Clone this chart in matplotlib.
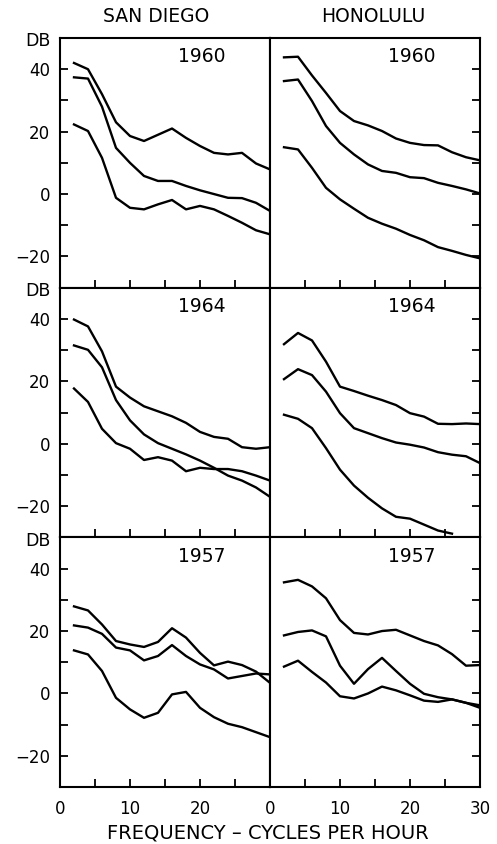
import matplotlib.pyplot as plt
from matplotlib import transforms

freq = [2, 4, 6, 8, 10, 12, 14, 16, 18, 20, 22, 24, 26, 28, 30]

# San Diego
sd_1960_hi = [42, 40, 32, 23, 18.6, 17, 19, 21, 18, 15.4, 13.2, 12.7, 13.2, 9.8, 7.9]
sd_1960_mid = [37.4, 37, 28, 14.8, 10, 5.8, 4.2, 4.2, 2.6, 1.2, 0, -1.2, -1.3, -2.8, -5.4]
sd_1960_lo = [22.3, 20.2, 11.6, -1.2, -4.4, -4.9, -3.3, -1.9, -4.9, -3.8, -4.9, -7, -9.2, -11.6, -12.9]

sd_1964_hi = [39.8, 37.6, 29.6, 18.3, 14.8, 12, 10.4, 8.8, 6.7, 3.8, 2.2, 1.6, -1.1, -1.6, -1.1]
sd_1964_mid = [31.5, 30.1, 24.5, 14, 7.5, 3, 0.2, -1.6, -3.4, -5.4, -7.7, -10.2, -11.8, -14, -17]
sd_1964_lo = [17.7, 13.4, 4.8, 0.2, -1.6, -5.2, -4.3, -5.4, -8.8, -7.7, -8.1, -8.1, -8.8, -10.2, -11.8]

sd_1957_hi = [27.9, 26.6, 22.1, 16.8, 15.7, 14.9, 16.5, 20.9, 17.9, 13, 9, 10.2, 9.1, 7, 3.4]
sd_1957_mid = [21.8, 21.1, 19.1, 14.7, 13.8, 10.6, 12, 15.5, 12, 9.3, 7.7, 4.8, 5.6, 6.4, 6.1]
sd_1957_lo = [13.8, 12.5, 7.2, -1.4, -5.1, -7.8, -6.2, -0.3, 0.5, -4.6, -7.6, -9.7, -10.8, -12.4, -14]

# Honolulu
ho_1960_hi = [43.8, 44, 38, 32.4, 26.6, 23.4, 22, 20.2, 17.8, 16.4, 15.7, 15.6, 13.4, 11.8, 10.8]
ho_1960_mid = [36.2, 36.7, 29.8, 21.8, 16.4, 12.7, 9.5, 7.4, 6.8, 5.4, 5.1, 3.6, 2.6, 1.5, 0.2]
ho_1960_lo = [15, 14.3, 8.4, 2, -1.7, -4.7, -7.6, -9.5, -11.1, -13.1, -14.8, -17, -18.2, -19.5, -20.6]

ho_1964_hi = [31.9, 35.5, 33.1, 26.3, 18.3, 16.9, 15.4, 14, 12.4, 9.8, 8.7, 6.4, 6.3, 6.5, 6.3]
ho_1964_mid = [20.7, 23.9, 22, 16.7, 9.8, 5, 3.4, 1.8, 0.4, -0.3, -1.2, -2.7, -3.5, -4, -6.2]
ho_1964_lo = [9.3, 8, 5, -1.4, -8.3, -13.4, -17.3, -20.7, -23.4, -24, -25.9, -27.8, -28.8]

ho_1957_hi = [35.6, 36.4, 34.3, 30.5, 23.5, 19.4, 18.9, 20, 20.4, 18.6, 16.8, 15.4, 12.6, 8.9, 9.1]
ho_1957_mid = [18.6, 19.7, 20.2, 18.3, 8.9, 3.1, 7.8, 11.4, 7.2, 3.1, -0.1, -1.2, -1.9, -3, -4.6]
ho_1957_lo = [8.6, 10.5, 6.9, 3.5, -0.9, -1.6, 0, 2.2, 1, -0.6, -2.3, -2.7, -1.9, -3, -3.8]

years = ['1960', '1964', '1957']
san_diego = [
    [sd_1960_hi, sd_1960_mid, sd_1960_lo],
    [sd_1964_hi, sd_1964_mid, sd_1964_lo],
    [sd_1957_hi, sd_1957_mid, sd_1957_lo],
]
honolulu = [
    [ho_1960_hi, ho_1960_mid, ho_1960_lo],
    [ho_1964_hi, ho_1964_mid, ho_1964_lo],
    [ho_1957_hi, ho_1957_mid, ho_1957_lo],
]

ytick_vals = [-20, -10, 0, 10, 20, 30, 40]
ytick_labels = ['\u221220', '', '0', '', '20', '', '40']
xtick_vals = [0, 5, 10, 15, 20, 25, 30]
xlabels_left = ['0', '', '10', '', '20', '', '']
xlabels_right = ['0', '', '10', '', '20', '', '30']

W, H = 497, 844
fig = plt.figure(figsize=(W / 100, H / 100), dpi=100)

x0, pw = 60, 210
top, ph = 38, 249.7
lw = 1.7

for row in range(3):
    y_top = top + row * ph
    for col, data in enumerate([san_diego, honolulu]):
        left = x0 + col * pw
        ax = fig.add_axes([left / W, 1 - (y_top + ph) / H, pw / W, ph / H])
        for series in data[row]:
            ax.plot(freq[:len(series)], series, color='black', lw=lw,
                    solid_joinstyle='round')
        ax.set_xlim(0, 30)
        ax.set_ylim(-30, 50)
        for sp in ax.spines.values():
            sp.set_linewidth(1.5)
        ax.set_xticks(xtick_vals)
        if row == 2:
            ax.set_xticklabels(xlabels_left if col == 0 else xlabels_right,
                               fontsize=12)
        else:
            ax.set_xticklabels([])
        ax.tick_params(axis='x', direction='in', length=5.5, width=1.3, pad=9)
        ax.set_yticks(ytick_vals)
        if col == 0:
            ax.set_yticklabels(ytick_labels, fontsize=12)
            ax.tick_params(axis='y', direction='in', length=5.5, width=1.3, pad=7,
                           left=True, right=False)
            trans = transforms.blended_transform_factory(fig.transFigure, ax.transData)
            ax.text(51 / W, 49, 'DB', transform=trans, ha='right', va='center',
                    fontsize=12.5)
        else:
            ax.tick_params(axis='y', direction='in', length=5.5, width=1.3,
                           left=False, right=True, labelleft=False, labelright=False)
        ax.text(20.3, 44, years[row], ha='center', va='center', fontsize=13.5)

fig.text(156 / W, 1 - 17 / H, 'SAN DIEGO', ha='center', va='center', fontsize=13.5)
fig.text(373 / W, 1 - 17 / H, 'HONOLULU', ha='center', va='center', fontsize=13.5)
fig.text(268 / W, 1 - 833 / H, 'FREQUENCY \u2013 CYCLES PER HOUR',
         ha='center', va='center', fontsize=14)

fig.savefig('out.png', dpi=100)
